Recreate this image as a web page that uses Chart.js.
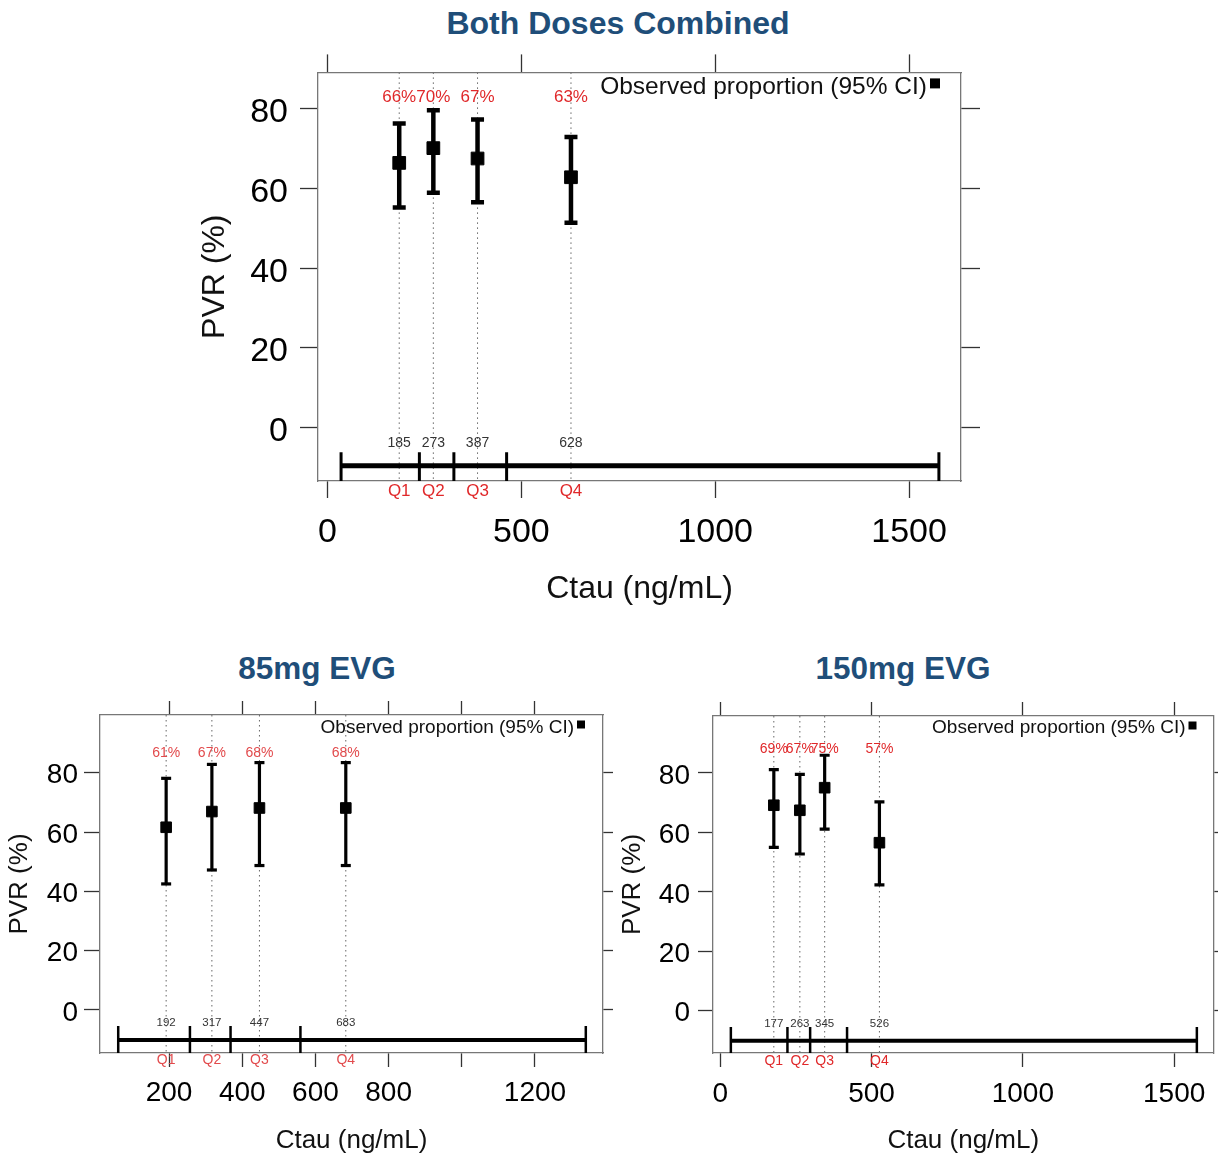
<!DOCTYPE html>
<html><head><meta charset="utf-8">
<script src="https://cdn.jsdelivr.net/npm/chart.js@4/dist/chart.umd.min.js"></script>
<style>
body{margin:0;background:#fff;width:1218px;height:1156px;position:relative;overflow:hidden;font-family:'Liberation Sans',Arial,sans-serif;}
canvas{position:absolute;}
.ttl{position:absolute;font-weight:bold;color:#1F4E79;white-space:nowrap;transform:translate(-50%,-50%);}
</style></head><body>
<div class="ttl" style="left:618px;top:23px;font-size:32px">Both Doses Combined</div>
<div class="ttl" style="left:317px;top:668px;font-size:31.5px">85mg EVG</div>
<div class="ttl" style="left:903px;top:668px;font-size:31.5px">150mg EVG</div>
<canvas id="c1" width="850" height="580" style="left:150px;top:40px"></canvas>
<canvas id="c2" width="640" height="466" style="left:0px;top:690px"></canvas>
<canvas id="c3" width="612" height="466" style="left:610px;top:690px"></canvas>
<script>
// ---- data ----
const quartileLabels = ['Q1', 'Q2', 'Q3', 'Q4'];
const yTicks = [0, 20, 40, 60, 80];

const comboMedians = [185, 273, 387, 628];
const comboProportion = [66.4, 70.1, 67.5, 62.8];
const comboLower = [55.2, 58.9, 56.5, 51.4];
const comboUpper = [76.3, 79.6, 77.3, 72.9];
const comboPctLabels = ['66%', '70%', '67%', '63%'];
const comboQuartileBreaks = [35, 237, 326, 462, 1577];
const comboXTicks = [0, 500, 1000, 1500];
const comboXTickLabels = ['0', '500', '1000', '1500'];

const evg85Medians = [192, 317, 447, 683];
const evg85Proportion = [61.6, 66.9, 68.1, 68.1];
const evg85Lower = [42.5, 47.2, 48.7, 48.7];
const evg85Upper = [78.1, 82.8, 83.4, 83.4];
const evg85PctLabels = ['61%', '67%', '68%', '68%'];
const evg85QuartileBreaks = [61, 257, 368, 559, 1339];
const evg85XTicks = [200, 400, 600, 800, 1000, 1200];
const evg85XTickLabels = ['200', '400', '600', '800', '', '1200'];

const evg150Medians = [177, 263, 345, 526];
const evg150Proportion = [69.1, 67.4, 75.0, 56.5];
const evg150Lower = [54.9, 52.7, 61.1, 42.3];
const evg150Upper = [81.1, 79.5, 85.9, 70.2];
const evg150PctLabels = ['69%', '67%', '75%', '57%'];
const evg150QuartileBreaks = [35, 222, 297, 419, 1575];
const evg150XTicks = [0, 500, 1000, 1500];
const evg150XTickLabels = ['0', '500', '1000', '1500'];

const legendText = 'Observed proportion (95% CI)';
const F = "'Liberation Sans', Arial, sans-serif";

function buildChart(id, d, L) {
  const ds = [];
  d.medians.forEach(m => ds.push({data: [{x: m, y: L.yMax}, {x: m, y: L.yMin}], showLine: true,
    borderColor: '#666', borderWidth: 1, borderDash: [1.5, 3.5], pointRadius: 0, order: 5}));
  ds.push({data: [{x: d.breaks[0], y: L.barY}, {x: d.breaks[d.breaks.length - 1], y: L.barY}], showLine: true,
    borderColor: '#000', borderWidth: L.barW, pointRadius: 0, order: 3});
  d.breaks.forEach(b => ds.push({data: [{x: b, y: L.tickTop}, {x: b, y: L.yMin}], showLine: true,
    borderColor: '#000', borderWidth: L.tickW, pointRadius: 0, order: 4}));
  d.medians.forEach((m, i) => ds.push({data: [{x: m, y: d.lower[i]}, {x: m, y: d.upper[i]}], showLine: true,
    borderColor: '#000', borderWidth: L.ciW, pointStyle: 'line', pointRadius: L.capR,
    pointBorderWidth: L.ciW, pointBorderColor: '#000', order: 2}));
  ds.push({data: d.medians.map((m, i) => ({x: m, y: d.proportion[i]})), showLine: false,
    pointStyle: 'rect', pointRadius: L.ptR, pointBackgroundColor: '#000', pointBorderColor: '#000',
    pointBorderWidth: 1, order: 1});

  const tickFont = {size: L.tickFont, family: F};
  function xScale(pos) {
    const bottom = pos === 'bottom';
    return {type: 'linear', position: pos, min: L.xMin, max: L.xMax,
      afterBuildTicks: s => { s.ticks = d.xTicks.map(v => ({value: v})); },
      afterFit: s => { s.height = bottom ? L.xH : L.x2H; },
      ticks: {display: bottom, autoSkip: false, maxRotation: 0, padding: L.xPad, font: tickFont, color: '#000',
        callback: (v, i) => d.xTickLabels[i]},
      grid: {drawOnChartArea: false, drawTicks: true, tickLength: bottom ? L.xTL : L.x2TL, tickColor: '#333', tickWidth: 1.3},
      border: {display: true, color: '#777', width: 1.3},
      title: bottom ? {display: true, text: 'Ctau (ng/mL)', font: {size: L.titleFont, family: F}, color: '#111',
        padding: {top: 0, bottom: L.xTitlePad}} : {display: false}
    };
  }
  function yScale(pos) {
    const left = pos === 'left';
    return {type: 'linear', position: pos, min: L.yMin, max: L.yMax,
      afterBuildTicks: s => { s.ticks = yTicks.map(v => ({value: v})); },
      afterFit: s => { s.width = left ? L.yW : L.y2W; },
      ticks: {display: left, padding: L.yPad, labelOffset: L.yLabOff, font: tickFont, color: '#000', callback: v => String(v)},
      grid: {drawOnChartArea: false, drawTicks: true, tickLength: left ? L.yTL : L.y2TL, tickColor: '#333', tickWidth: 1.3},
      border: {display: true, color: '#777', width: 1.3},
      title: left ? {display: true, text: 'PVR (%)', font: {size: L.titleFont, family: F}, color: '#111',
        padding: {top: L.yTitlePad, bottom: 0}} : {display: false}
    };
  }

  const textPlugin = {
    id: 'txt' + id,
    afterDatasetsDraw(chart) {
      const {ctx, chartArea, scales: {x, y}} = chart;
      ctx.save();
      ctx.textAlign = 'center';
      ctx.textBaseline = 'middle';
      d.medians.forEach((m, i) => {
        const px = x.getPixelForValue(m);
        ctx.fillStyle = L.red; ctx.font = L.pctFont + 'px ' + F;
        ctx.fillText(d.pctLabels[i], px, y.getPixelForValue(L.pctY));
        ctx.fillStyle = '#333'; ctx.font = L.medFont + 'px ' + F;
        ctx.fillText(String(m), px, y.getPixelForValue(L.medY));
        ctx.fillStyle = L.red; ctx.font = L.qFont + 'px ' + F;
        ctx.fillText(quartileLabels[i], px, y.getPixelForValue(L.qY));
      });
      // legend
      const sqR = chartArea.right - L.legGap;
      ctx.fillStyle = '#000';
      ctx.fillRect(sqR - L.legSq, chartArea.top + L.legSqY - L.legSq / 2, L.legSq, L.legSq);
      ctx.textAlign = 'right';
      ctx.font = L.legFont + 'px ' + F;
      ctx.fillStyle = '#111';
      ctx.fillText(legendText, sqR - L.legSq - 3, chartArea.top + L.legTextY);
      ctx.restore();
    }
  };

  return new Chart(document.getElementById(id), {
    type: 'scatter',
    data: {datasets: ds},
    options: {
      responsive: false, animation: false, devicePixelRatio: 1,
      layout: {padding: 0},
      plugins: {legend: {display: false}, tooltip: {enabled: false}},
      scales: {x: xScale('bottom'), x2: xScale('top'), y: yScale('left'), y2: yScale('right')}
    },
    plugins: [textPlugin]
  });
}

buildChart('c1', {medians: comboMedians, proportion: comboProportion, lower: comboLower, upper: comboUpper,
  pctLabels: comboPctLabels, breaks: comboQuartileBreaks, xTicks: comboXTicks, xTickLabels: comboXTickLabels},
  {xMin: -24.5, xMax: 1634, yMin: -13.4, yMax: 89.1, yW: 168, y2W: 39, x2H: 30, xH: 139,
   yTL: 18, y2TL: 19, xTL: 17, x2TL: 18, tickFont: 34, yPad: 12, yLabOff: 4, xPad: 14, titleFont: 32,
   yTitlePad: 46, xTitlePad: 12, pctFont: 17, medFont: 14, qFont: 17, legFont: 24.5, legSq: 10,
   legGap: 21, legSqY: 11, legTextY: 15, ptR: 9, capR: 6.5, ciW: 4.5, barW: 5, tickW: 3, red: '#E0282A',
   pctY: 82.9, medY: -3.9, qY: -16.1, barY: -9.6, tickTop: -6.2});

buildChart('c2', {medians: evg85Medians, proportion: evg85Proportion, lower: evg85Lower, upper: evg85Upper,
  pctLabels: evg85PctLabels, breaks: evg85QuartileBreaks, xTicks: evg85XTicks, xTickLabels: evg85XTickLabels},
  {xMin: 11.2, xMax: 1386, yMin: -14.5, yMax: 99.45, yW: 100, y2W: 37, x2H: 25, xH: 103,
   yTL: 16, y2TL: 10, xTL: 14, x2TL: 14, tickFont: 28, yPad: 6, yLabOff: 3, xPad: 9, titleFont: 26,
   yTitlePad: 4.4, xTitlePad: 0, pctFont: 14, medFont: 11.5, qFont: 14, legFont: 19, legSq: 8,
   legGap: 18, legSqY: 9.5, legTextY: 13, ptR: 7.5, capR: 5, ciW: 3.2, barW: 4, tickW: 2.5, red: '#E24A4C',
   pctY: 86.5, medY: -4.3, qY: -16.9, barY: -10.1, tickTop: -5.4});

buildChart('c3', {medians: evg150Medians, proportion: evg150Proportion, lower: evg150Lower, upper: evg150Upper,
  pctLabels: evg150PctLabels, breaks: evg150QuartileBreaks, xTicks: evg150XTicks, xTickLabels: evg150XTickLabels},
  {xMin: -24, xMax: 1630, yMin: -14.2, yMax: 99.1, yW: 103, y2W: 8, x2H: 26, xH: 103,
   yTL: 15, y2TL: 10, xTL: 14, x2TL: 14, tickFont: 28, yPad: 8, yLabOff: 3, xPad: 10, titleFont: 26,
   yTitlePad: 7.4, xTitlePad: 0, pctFont: 14, medFont: 11.5, qFont: 14, legFont: 19, legSq: 8,
   legGap: 17, legSqY: 9.5, legTextY: 12, ptR: 7.5, capR: 5, ciW: 3.2, barW: 4, tickW: 2.5, red: '#E0282A',
   pctY: 87.9, medY: -4.5, qY: -16.9, barY: -10.1, tickTop: -5.5});
</script>
</body></html>
